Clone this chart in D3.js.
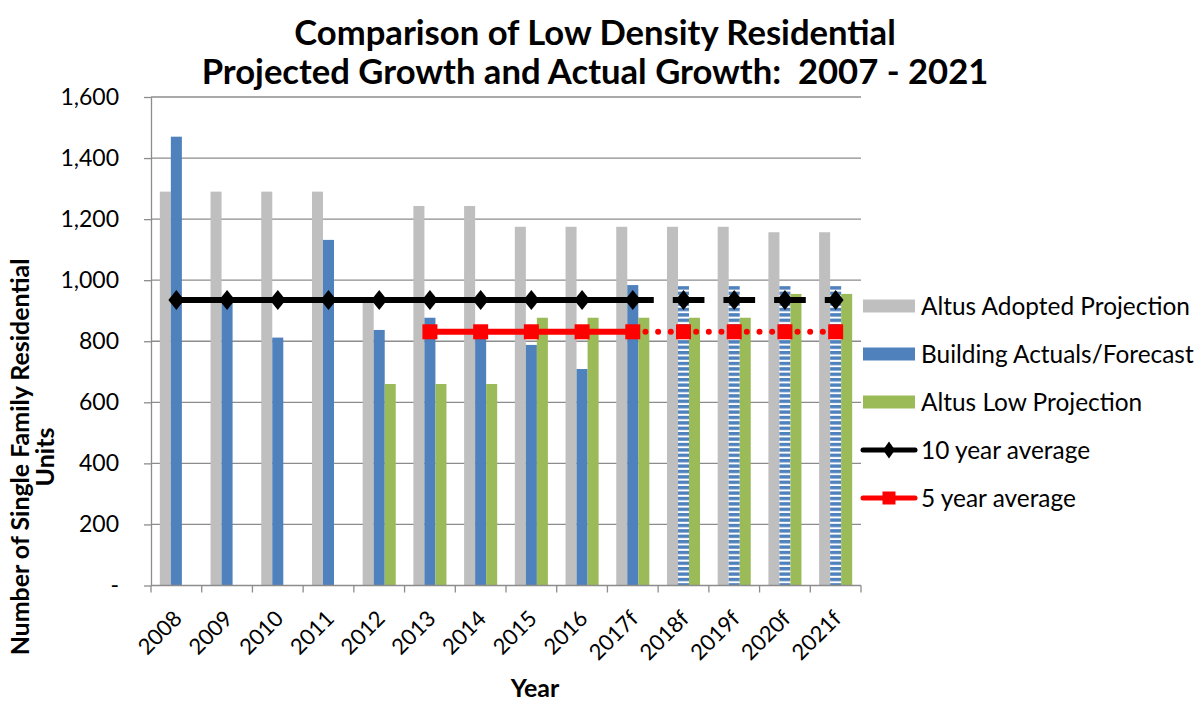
<!DOCTYPE html>
<html>
<head>
<meta charset="utf-8">
<script src="https://cdn.jsdelivr.net/npm/d3@7"></script>
<style>
  body { margin: 0; background: #fff; }
  svg { display: block; font-family: Lato, 'Open Sans', sans-serif; }
</style>
</head>
<body>
<svg id="chart" width="1203" height="701"></svg>
<script>

// Data
const years = ['2008', '2009', '2010', '2011', '2012', '2013', '2014', '2015', '2016', '2017f', '2018f', '2019f', '2020f', '2021f'];
const adopted = [1290, 1290, 1290, 1290, 945, 1243, 1243, 1175, 1175, 1175, 1175, 1175, 1157, 1157];
const actuals = [1470, 930, 812, 1132, 837, 877, 830, 788, 709, 984, 981, 981, 981, 981];
const lowProjection = [null, null, null, null, 660, 660, 660, 877, 877, 877, 877, 877, 955, 955];
const avg10 = [935, 935, 935, 935, 935, 935, 935, 935, 935, 935, 935, 935, 935, 935];
const avg5 = [null, null, null, null, null, 831, 831, 831, 831, 831, 831, 831, 831, 831];
const barForecastFrom = '2018f';     // actuals drawn striped from here
const lineForecastFrom = '2017f';    // averages drawn dashed/dotted from here
const yTicks = [0, 200, 400, 600, 800, 1000, 1200, 1400, 1600];
const titleLines = ['Comparison of Low Density Residential', 'Projected Growth and Actual Growth:  2007 - 2021'];
const yTitleLines = ['Number of Single Family Residential', 'Units'];
const xTitle = 'Year';
const legendLabels = ['Altus Adopted Projection', 'Building Actuals/Forecast', 'Altus Low Projection', '10 year average', '5 year average'];

// Constants
const PLOT = { left: 151, right: 861, top: 97, bottom: 585.5 };
const GREY = '#BFBFBF';
const BLUE = '#4F81BD';
const GREEN = '#9BBB59';
const RED = '#FF0000';
const GRID = '#8C8C8C';

const svg = d3.select('#chart');

// Helper: scale font so that a reference string reaches a target width
function fitSize(str, weight, target) {
    let t = svg.append('text').attr('font-size', 100).attr('font-weight', weight)
        .style('white-space', 'pre').text(str);
    let w = t.node().getComputedTextLength();
    t.remove();
    return 100 * target / w;
}

// Scales
const x = d3.scaleBand().domain(years).range([PLOT.left, PLOT.right]);
const xs = d3.scaleBand().domain(['adopted', 'actuals', 'low']).range([0, x.bandwidth()]).paddingOuter(0.8);
const y = d3.scaleLinear().domain([0, 1600]).range([PLOT.bottom, PLOT.top]);
const cx = (d) => x(d) + x.bandwidth() / 2;

// Pattern for forecast bars
const pat = svg.append('defs').append('pattern')
    .attr('id', 'stripes')
    .attr('patternUnits', 'userSpaceOnUse')
    .attr('width', 12).attr('height', 5.4)
;
pat.append('rect').attr('width', 12).attr('height', 5.4).attr('fill', '#fff');
pat.append('rect').attr('width', 12).attr('height', 3.4).attr('fill', BLUE);

// Gridlines
svg.append('g')
    .selectAll('line').data(yTicks.filter((v) => v > 0)).join('line')
    .attr('x1', PLOT.left).attr('x2', PLOT.right)
    .attr('y1', (v) => y(v)).attr('y2', (v) => y(v))
    .attr('stroke', GRID).attr('stroke-width', 1.3)
;

// Bars
const barData = [];
years.forEach((yr, i) => {
    barData.push({ yr, key: 'adopted', v: adopted[i], fill: GREY });
    let striped = years.indexOf(yr) >= years.indexOf(barForecastFrom);
    barData.push({ yr, key: 'actuals', v: actuals[i], fill: striped ? 'url(#stripes)' : BLUE });
    if (lowProjection[i] != null) barData.push({ yr, key: 'low', v: lowProjection[i], fill: GREEN });
});
svg.append('g')
    .selectAll('rect').data(barData).join('rect')
    .attr('x', (d) => x(d.yr) + xs(d.key))
    .attr('width', xs.bandwidth())
    .attr('y', (d) => y(d.v))
    .attr('height', (d) => y(0) - y(d.v))
    .attr('fill', (d) => d.fill)
;

// Y axis
const yAxis = svg.append('g')
    .attr('transform', `translate(${PLOT.left},0)`)
    .call(d3.axisLeft(y).tickValues(yTicks).tickSize(7).tickSizeOuter(0).tickPadding(25)
        .tickFormat((v) => v === 0 ? '-' : d3.format(',')(v)))
    .attr('font-family', null)
    .attr('font-size', 23)
;
yAxis.select('.domain').attr('stroke', GRID).attr('stroke-width', 1.3);
yAxis.selectAll('.tick line').attr('stroke', GRID).attr('stroke-width', 1.3);
yAxis.selectAll('.tick text').attr('fill', '#000');

// X axis (ticks between categories)
const xAxis = svg.append('g');
xAxis.append('line')
    .attr('x1', PLOT.left).attr('x2', PLOT.right)
    .attr('y1', PLOT.bottom).attr('y2', PLOT.bottom)
    .attr('stroke', GRID).attr('stroke-width', 1.3)
;
xAxis.selectAll('line.tick').data(years.map((d) => x(d)).concat([PLOT.right])).join('line')
    .attr('class', 'tick')
    .attr('x1', (d) => d).attr('x2', (d) => d)
    .attr('y1', PLOT.bottom).attr('y2', PLOT.bottom + 7)
    .attr('stroke', GRID).attr('stroke-width', 1.3)
;
xAxis.selectAll('text').data(years).join('text')
    .attr('transform', (d) => `translate(${cx(d) + 7},${620}) rotate(-45)`)
    .attr('text-anchor', 'end')
    .attr('font-size', 22)
    .text((d) => d)
;

// Lines
function drawAverage(values, color, width, brokenDash, marker) {
    let pts = years.map((yr, i) => ({ yr, v: values[i] })).filter((p) => p.v != null);
    let split = pts.findIndex((p) => p.yr === lineForecastFrom);
    let line = d3.line().x((p) => cx(p.yr)).y((p) => y(p.v));
    let g = svg.append('g');
    g.append('path')
        .attr('d', line(pts.slice(0, split + 1)))
        .attr('fill', 'none').attr('stroke', color).attr('stroke-width', width)
    ;
    g.append('path')
        .attr('d', line(pts.slice(split)))
        .attr('fill', 'none').attr('stroke', color).attr('stroke-width', width)
        .attr('stroke-dasharray', brokenDash.array)
        .attr('stroke-dashoffset', brokenDash.offset)
        .attr('stroke-linecap', brokenDash.cap)
    ;
    g.selectAll('path.marker').data(pts).join('path')
        .attr('class', 'marker')
        .attr('transform', (p) => `translate(${cx(p.yr)},${y(p.v)})`)
        .attr('d', marker)
        .attr('fill', color)
    ;
}
const DIAMOND = 'M0,-10L8,0L0,10L-8,0Z';
const SQUARE = 'M-7.5,-7.5H7.5V7.5H-7.5Z';
drawAverage(avg10, '#000', 6, { array: '31.67,19', offset: 10.67, cap: 'butt' }, DIAMOND);
drawAverage(avg5, RED, 6, { array: '0,12.67', offset: 0, cap: 'round' }, SQUARE);

// Legend
const LEGEND_X = 863, LEGEND_Y = 306, LEGEND_STEP = 48;
const legendFills = [GREY, BLUE, GREEN];
const legend = svg.append('g');
const rows = legend.selectAll('g').data(legendLabels).join('g')
    .attr('transform', (d, i) => `translate(${LEGEND_X},${LEGEND_Y + i * LEGEND_STEP})`)
;
rows.filter((d, i) => i < 3).append('rect')
    .attr('x', 0).attr('y', -6.5).attr('width', 52).attr('height', 13)
    .attr('fill', (d, i) => legendFills[i])
;
rows.filter((d, i) => i >= 3).append('line')
    .attr('x1', 0).attr('x2', 52).attr('y1', 0).attr('y2', 0)
    .attr('stroke', (d, i) => i === 0 ? '#000' : RED).attr('stroke-width', 5).attr('stroke-linecap', 'round')
;
rows.filter((d, i) => i >= 3).append('path')
    .attr('transform', 'translate(26,0)')
    .attr('d', (d, i) => i === 0 ? 'M0,-8.5L6,0L0,8.5L-6,0Z' : 'M-6.5,-6.5H6.5V6.5H-6.5Z')
    .attr('fill', (d, i) => i === 0 ? '#000' : RED)
;
const legendSize = fitSize(legendLabels[0], 400, 269);
rows.append('text')
    .attr('x', 58).attr('dy', '0.35em')
    .attr('font-size', legendSize)
    .text((d) => d)
;

// Title
const titleSize = fitSize(titleLines[1], 700, 787);
svg.append('g').selectAll('text').data(titleLines).join('text')
    .attr('x', 595).attr('y', (d, i) => 45 + i * 39)
    .attr('text-anchor', 'middle')
    .attr('font-size', titleSize).attr('font-weight', 700)
    .style('white-space', 'pre')
    .text((d) => d)
;

// Axis titles
const yTitleSize = fitSize(yTitleLines[0], 700, 397);
svg.append('g')
    .attr('transform', 'translate(0,457) rotate(-90)')
    .selectAll('text').data(yTitleLines).join('text')
    .attr('x', 0).attr('y', (d, i) => 29 + i * 25)
    .attr('text-anchor', 'middle')
    .attr('font-size', yTitleSize).attr('font-weight', 700)
    .text((d) => d)
;
svg.append('text')
    .attr('x', 535).attr('y', 697)
    .attr('text-anchor', 'middle')
    .attr('font-size', yTitleSize).attr('font-weight', 700)
    .text(xTitle)
;

</script>
</body>
</html>
